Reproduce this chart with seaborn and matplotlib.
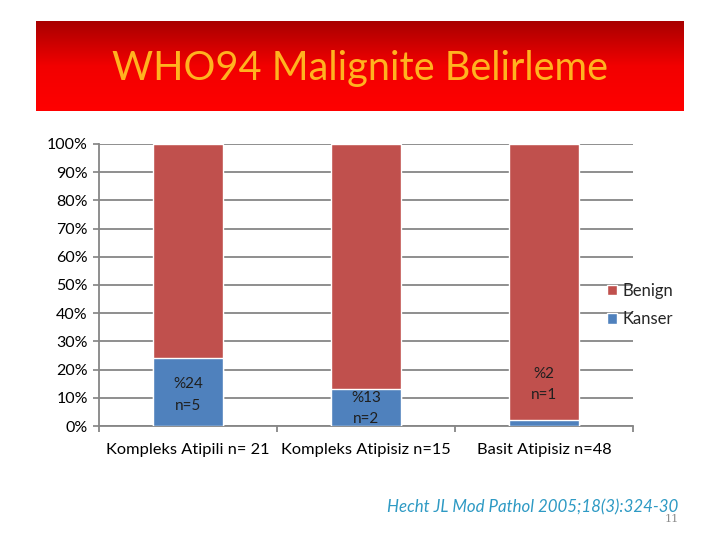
import numpy as np
import pandas as pd
import matplotlib
matplotlib.use("Agg")
import matplotlib.pyplot as plt
import seaborn as sns
from matplotlib.ticker import FixedLocator
from matplotlib.colors import LinearSegmentedColormap

categories = ["Kompleks Atipili n= 21", "Kompleks Atipisiz n=15", "Basit Atipisiz n=48"]
kanser = [24, 13, 2]
benign = [76, 87, 98]
bar_labels = ["%24\nn=5", "%13\nn=2", "%2\nn=1"]
title = "WHO94 Malignite Belirleme"
citation = "Hecht JL Mod Pathol 2005;18(3):324-30"
page_no = "11"

sns.set_theme(style="white")
plt.rcParams['font.family'] = ['Lato', 'DejaVu Sans']

RED = "#C0504D"
BLUE = "#4F81BD"
GRID = "#868686"

fig = plt.figure(figsize=(7.2, 5.4), dpi=100)

# title banner with vertical gradient
bax = fig.add_axes([36/720, 1-111/540, 648/720, 90/540])
grad = np.linspace(0, 1, 256).reshape(-1, 1)
cmap = LinearSegmentedColormap.from_list("ban", ["#A80000", "#F20000", "#FF0000"])
bax.imshow(grad, aspect="auto", cmap=cmap, extent=[0, 1, 0, 1], origin="upper")
bax.set_axis_off()
bax.text(0.5, 0.47, title, color="#FFB31F", fontsize=28.6, ha="center", va="center",
         transform=bax.transAxes)

ax = fig.add_axes([99/720, 1-426/540, 534/720, 282/540])
df = pd.DataFrame({"cat": categories, "total": [b + k for b, k in zip(benign, kanser)],
                   "kanser": kanser})
sns.barplot(data=df, x="cat", y="total", color=RED, width=0.39, ax=ax,
            saturation=1, label="Benign", zorder=3)
sns.barplot(data=df, x="cat", y="kanser", color=BLUE, width=0.39, ax=ax,
            saturation=1, label="Kanser", zorder=3)
for p in ax.patches[len(categories):]:
    p.set_edgecolor("white")
    p.set_linewidth(1.0)
handles, labels = ax.get_legend_handles_labels()
if ax.get_legend() is not None:
    ax.get_legend().remove()

ax.set_xlim(-0.5, 2.5)
ax.set_ylim(0, 100)
ax.set_yticks(range(0, 101, 10))
ax.set_yticklabels([f"{v}%" for v in range(0, 101, 10)])
ax.yaxis.grid(True, color=GRID, linewidth=1.3, zorder=0)
ax.set_axisbelow(True)
ax.set_xlabel("")
ax.set_ylabel("")
for s in ["top", "right"]:
    ax.spines[s].set_visible(False)
for s in ["left", "bottom"]:
    ax.spines[s].set_color(GRID)
    ax.spines[s].set_linewidth(1.3)
ax.tick_params(axis="y", left=True, length=4, color=GRID, labelsize=11.5, pad=4, labelcolor="black")
ax.tick_params(axis="x", bottom=False, labelsize=11.8, pad=6, labelcolor="black")
ax.xaxis.set_minor_locator(FixedLocator([-0.5, 0.5, 1.5, 2.5]))
ax.tick_params(axis="x", which="minor", bottom=True, length=4, color=GRID, width=1.3)

label_y = [11.0, 6.3, 14.7]
for i, (lab, yv) in enumerate(zip(bar_labels, label_y)):
    ax.text(i, yv, lab, ha="center", va="center", fontsize=11, color="#1F1F1F",
            linespacing=1.65, zorder=5)

leg = fig.legend(handles, labels, loc="upper left", bbox_to_anchor=(592/720, 1-268/540),
                 frameon=False, fontsize=12, handlelength=0.6, handleheight=0.6,
                 handletextpad=0.3, labelspacing=0.75)

fig.text(387/720, 1-507/540, citation, color="#2E9AC4", fontsize=12.2, style="italic",
         ha="left", va="center")
fig.text(665/720, 1-519/540, page_no, color="#8C8C8C", fontsize=8, ha="left", va="center",
         family="DejaVu Serif")

fig.savefig("out.png", dpi=100)
